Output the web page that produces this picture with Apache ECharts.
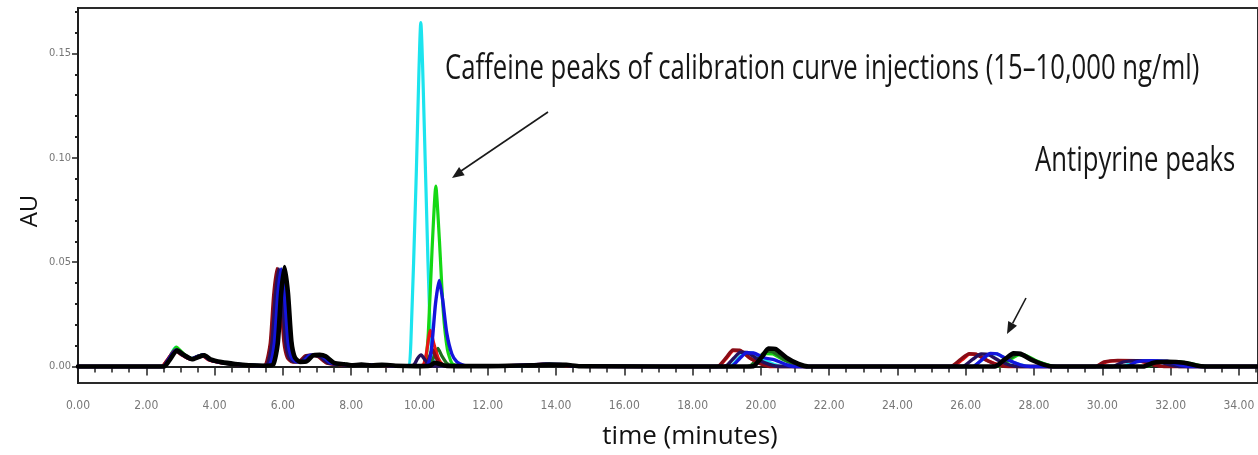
<!DOCTYPE html>
<html>
<head>
<meta charset="utf-8">
<script src="https://cdn.jsdelivr.net/npm/echarts@6/dist/echarts.min.js"></script>
<style>
  html, body { margin: 0; padding: 0; background: #fff; }
  #chart { width: 1258px; height: 455px; }
</style>
</head>
<body>
<div id="chart"></div>
<script>
// Axis ticks and labels
const xMajorTicks = [0, 2, 4, 6, 8, 10, 12, 14, 16, 18, 20, 22, 24, 26, 28, 30, 32, 34];
const xMinorTicks = [0.5, 1, 1.5, 2.5, 3, 3.5, 4.5, 5, 5.5, 6.5, 7, 7.5, 8.5, 9, 9.5, 10.5, 11, 11.5,
  12.5, 13, 13.5, 14.5, 15, 15.5, 16.5, 17, 17.5, 18.5, 19, 19.5, 20.5, 21, 21.5, 22.5, 23, 23.5,
  24.5, 25, 25.5, 26.5, 27, 27.5, 28.5, 29, 29.5, 30.5, 31, 31.5, 32.5, 33, 33.5, 34.5];
const yMajorTicks = [0, 0.05, 0.10, 0.15];
const yMinorTicks = [0.01, 0.02, 0.03, 0.04, 0.06, 0.07, 0.08, 0.09, 0.11, 0.12, 0.13, 0.14, 0.16, 0.17];

// Chromatogram traces: [time (min), absorbance (AU)]
const traceCyan = [[0,0],[2.5,0],[2.62,0.0025],[2.86,0.0092],[3.05,0.0062],[3.3,0.0038],[3.5,0.0048],[3.65,0.0056],[3.82,0.0036],[4.1,0.0024],[4.5,0.0014],[4.9,0.0008],[5.4,0.0004],
  [5.62,0.001],[5.75,0.011],[5.85,0.034],[5.95,0.0465],[6.05,0.033],[6.15,0.012],[6.25,0.0045],[6.4,0.0022],[6.6,0.0025],[6.78,0.0052],[6.98,0.0056],[7.15,0.005],[7.4,0.0018],[7.7,0.001],[8.2,0.0006],[8.7,0.0007],[9.2,0.0004],
  [9.66,0],[9.75,0.012],[9.9,0.088],[10.04,0.1648],[10.19,0.086],[10.32,0.014],[10.42,0.002],[10.6,0.0003],
  [11.5,0.0002],[12.8,0.0001],[13.2,0.0006],[13.7,0.001],[14.2,0.0008],[14.6,0.0001],[18.9,0],
  [19.1,0],[19.35,0.004],[19.55,0.0067],[19.75,0.0066],[20.05,0.0035],[20.4,0.001],[20.7,0],
  [26.2,0],[26.5,0.0035],[26.72,0.0062],[26.92,0.006],[27.25,0.003],[27.6,0.0008],[27.9,0],
  [30.6,0],[30.9,0.0021],[31.3,0.0027],[31.8,0.0024],[32.1,0.001],[32.4,0],[34.6,0]];

const traceGreen = [[0,0],[2.5,0],[2.64,0.003],[2.88,0.0093],[3.08,0.0063],[3.32,0.0038],[3.52,0.005],[3.68,0.0057],[3.85,0.0036],[4.15,0.0023],[4.55,0.0013],[5.0,0.0007],[5.5,0.0004],
  [5.72,0.001],[5.85,0.011],[5.95,0.035],[6.05,0.0472],[6.15,0.034],[6.25,0.012],[6.35,0.0045],[6.5,0.0023],[6.7,0.0026],[6.88,0.0054],[7.08,0.0057],[7.25,0.005],[7.5,0.0018],[7.8,0.001],[8.3,0.0006],[8.8,0.0007],[9.3,0.0004],[10.1,0.0002],
  [10.17,0.001],[10.26,0.016],[10.37,0.056],[10.48,0.0865],[10.58,0.062],[10.7,0.026],[10.82,0.008],[10.95,0.0015],[11.1,0.0004],
  [12.0,0.0002],[13.3,0.0006],[13.8,0.001],[14.3,0.0008],[14.7,0.0001],[19.6,0],
  [19.75,0.0005],[20.0,0.0042],[20.15,0.0062],[20.35,0.006],[20.65,0.0033],[21.0,0.001],[21.3,0],
  [27.0,0],[27.3,0.0033],[27.55,0.0056],[27.75,0.0054],[28.1,0.0025],[28.45,0.0006],[28.7,0],
  [31.3,0],[31.6,0.0018],[32.0,0.0024],[32.5,0.0018],[32.85,0.0004],[33.1,0],[34.6,0]];

const traceDarkGreen = [[0,0],[2.5,0],[2.65,0.0028],[2.9,0.0082],[3.1,0.0058],[3.35,0.0036],[3.55,0.0048],[3.7,0.0055],[3.88,0.0034],[4.2,0.0021],[4.6,0.0012],[5.0,0.0006],[5.5,0.0004],
  [5.7,0.001],[5.82,0.011],[5.92,0.034],[6.02,0.046],[6.12,0.033],[6.22,0.012],[6.32,0.0042],[6.48,0.0022],[6.68,0.0025],[6.86,0.0052],[7.06,0.0055],[7.22,0.0048],[7.48,0.0017],[7.8,0.001],[8.3,0.0006],[8.8,0.0007],[9.3,0.0004],[10.2,0.0003],
  [10.3,0.001],[10.42,0.0045],[10.54,0.0087],[10.66,0.005],[10.8,0.0016],[10.95,0.0003],
  [12.0,0.0002],[13.3,0.0006],[13.8,0.0009],[14.3,0.0008],[14.7,0.0001],[19.6,0],
  [19.7,0.0004],[19.95,0.0045],[20.15,0.0072],[20.35,0.007],[20.65,0.0036],[21.0,0.0011],[21.3,0],
  [26.95,0],[27.25,0.0034],[27.5,0.0058],[27.7,0.0056],[28.05,0.0026],[28.4,0.0007],[28.65,0],
  [31.3,0],[31.6,0.0017],[32.0,0.0023],[32.45,0.0017],[32.8,0.0004],[33.0,0],[34.6,0]];

const traceRed = [[0,0],[2.45,0],[2.6,0.0028],[2.84,0.0078],[3.04,0.0056],[3.28,0.0035],[3.48,0.0047],[3.62,0.0054],[3.8,0.0034],[4.1,0.0021],[4.5,0.0012],[4.9,0.0006],[5.35,0.0004],
  [5.52,0.001],[5.65,0.011],[5.75,0.034],[5.85,0.0465],[5.95,0.033],[6.05,0.012],[6.15,0.0043],[6.3,0.0022],[6.5,0.0025],[6.68,0.0051],[6.88,0.0054],[7.05,0.0048],[7.3,0.0017],[7.6,0.001],[8.1,0.0006],[8.6,0.0007],[9.1,0.0004],[10.0,0.0003],
  [10.12,0.001],[10.2,0.006],[10.32,0.0173],[10.42,0.011],[10.55,0.004],[10.68,0.001],[10.85,0.0002],
  [11.8,0.0002],[13.1,0.0006],[13.6,0.001],[14.1,0.0008],[14.5,0.0001],[18.7,0],
  [18.8,0.0004],[19.02,0.0045],[19.2,0.0076],[19.4,0.0075],[19.7,0.0038],[20.05,0.0012],[20.35,0],
  [25.6,0],[25.9,0.0033],[26.12,0.0059],[26.32,0.0057],[26.65,0.0028],[27.0,0.0007],[27.3,0],
  [29.85,0],[30.1,0.0021],[30.5,0.0028],[31.1,0.0026],[31.5,0.0009],[31.8,0],[34.6,0]];

const traceDarkRed = [[0,0],[2.45,0],[2.6,0.0027],[2.85,0.0077],[3.05,0.0055],[3.3,0.0035],[3.5,0.0047],[3.64,0.0054],[3.82,0.0034],[4.1,0.0021],[4.5,0.0012],[4.9,0.0006],[5.35,0.0004],
  [5.5,0.001],[5.63,0.011],[5.73,0.034],[5.83,0.047],[5.93,0.034],[6.03,0.012],[6.13,0.0043],[6.28,0.0022],[6.48,0.0025],[6.66,0.0051],[6.86,0.0054],[7.03,0.0048],[7.28,0.0017],[7.6,0.001],[8.1,0.0006],[8.6,0.0007],[9.1,0.0004],[10.1,0.0003],
  [10.2,0.001],[10.3,0.005],[10.38,0.0082],[10.48,0.0045],[10.6,0.0012],[10.75,0.0002],
  [11.8,0.0002],[13.1,0.0006],[13.6,0.001],[14.1,0.0008],[14.5,0.0001],[18.7,0],
  [18.78,0.0004],[19.0,0.0046],[19.18,0.0079],[19.38,0.0078],[19.68,0.004],[20.0,0.0013],[20.3,0],
  [25.55,0],[25.85,0.0034],[26.1,0.0061],[26.3,0.0059],[26.62,0.0029],[26.95,0.0007],[27.25,0],
  [29.8,0],[30.05,0.0022],[30.45,0.0029],[31.1,0.0027],[31.5,0.0009],[31.8,0],[34.6,0]];

const traceNavy = [[0,0],[2.5,0],[2.63,0.0028],[2.87,0.0076],[3.07,0.0055],[3.3,0.0035],[3.52,0.0048],[3.66,0.0055],[3.84,0.0034],[4.12,0.0021],[4.5,0.0012],[4.9,0.0006],[5.4,0.0004],
  [5.55,0.001],[5.68,0.011],[5.78,0.034],[5.88,0.0468],[5.98,0.034],[6.08,0.012],[6.18,0.0043],[6.33,0.0022],[6.53,0.0025],[6.71,0.0051],[6.91,0.0054],[7.08,0.0048],[7.33,0.0017],[7.65,0.001],[8.15,0.0006],[8.65,0.0007],[9.15,0.0004],[9.75,0.0003],
  [9.85,0.001],[9.95,0.004],[10.05,0.0055],[10.17,0.003],[10.3,0.0006],[10.5,0.0002],
  [11.8,0.0002],[13.2,0.0006],[13.7,0.001],[14.2,0.0008],[14.6,0.0001],[18.9,0],
  [19.0,0.0004],[19.22,0.0042],[19.4,0.0068],[19.6,0.0067],[19.9,0.0035],[20.25,0.001],[20.55,0],
  [25.9,0],[26.2,0.0034],[26.45,0.006],[26.65,0.0058],[26.98,0.0028],[27.3,0.0007],[27.6,0],
  [30.3,0],[30.6,0.0021],[31.0,0.0028],[31.6,0.0025],[31.95,0.0009],[32.25,0],[34.6,0]];

const traceBlue = [[0,0],[2.5,0],[2.63,0.0028],[2.87,0.0079],[3.07,0.0057],[3.31,0.0036],[3.51,0.0049],[3.66,0.0056],[3.84,0.0035],[4.12,0.0022],[4.52,0.0013],[4.92,0.0007],[5.4,0.0004],
  [5.62,0.001],[5.75,0.011],[5.85,0.034],[5.95,0.0468],[6.05,0.034],[6.15,0.012],[6.25,0.0044],[6.4,0.0022],[6.6,0.0025],[6.78,0.0053],[6.98,0.0056],[7.15,0.005],[7.4,0.0018],[7.7,0.001],[8.2,0.0006],[8.7,0.0007],[9.2,0.0004],[10.1,0.0003],
  [10.25,0.001],[10.35,0.008],[10.47,0.03],[10.58,0.0413],[10.68,0.032],[10.8,0.016],[10.95,0.006],[11.1,0.0022],[11.3,0.0006],[11.5,0.0002],
  [12.5,0.0002],[13.2,0.0007],[13.7,0.0011],[14.2,0.0009],[14.6,0.0001],[19.1,0],
  [19.18,0.0004],[19.4,0.0042],[19.58,0.0066],[19.78,0.0065],[20.1,0.0042],[20.4,0.0032],[20.7,0.0012],[21.0,0],
  [26.2,0],[26.5,0.0036],[26.72,0.0063],[26.92,0.0061],[27.25,0.0031],[27.6,0.0008],[27.9,0],
  [30.7,0],[31.0,0.0022],[31.4,0.0028],[31.9,0.0025],[32.2,0.001],[32.5,0],[34.6,0]];

const traceBlack = [[0,0],[2.52,0],[2.66,0.0026],[2.9,0.0076],[3.1,0.0055],[3.34,0.0035],[3.55,0.0047],[3.7,0.0054],[3.88,0.0034],[4.2,0.0021],[4.6,0.0012],[5.0,0.0006],[5.5,0.0004],
  [5.72,0.001],[5.85,0.011],[5.95,0.035],[6.05,0.0477],[6.15,0.035],[6.25,0.012],[6.35,0.0044],[6.5,0.0022],[6.7,0.0025],[6.88,0.0053],[7.08,0.0056],[7.25,0.0049],[7.5,0.0017],[7.8,0.0011],[8.0,0.0006],[8.3,0.0009],[8.6,0.0005],[8.9,0.0008],[9.3,0.0004],[9.9,0.0002],
  [10.3,0.0004],[10.45,0.0018],[10.6,0.0012],[10.8,0.0003],
  [12.0,0.0002],[13.3,0.0006],[13.8,0.0009],[14.3,0.0008],[14.7,0.0001],[19.7,0],
  [19.82,0.0005],[20.05,0.005],[20.22,0.0086],[20.42,0.0084],[20.75,0.0042],[21.1,0.0012],[21.4,0],
  [26.85,0],[27.15,0.0035],[27.4,0.0063],[27.6,0.0061],[27.95,0.003],[28.3,0.0008],[28.55,0],
  [31.2,0],[31.5,0.0018],[31.9,0.0023],[32.4,0.0018],[32.75,0.0005],[33.0,0],[34.6,0]];

// Drawing order: later traces sit on top
const traces = [
  { name: 'run 1', data: traceCyan, color: '#1ce4ee', width: 3.2 },
  { name: 'run 2', data: traceGreen, color: '#14d814', width: 3.2 },
  { name: 'run 3', data: traceDarkGreen, color: '#1e6e1e', width: 3.2 },
  { name: 'run 4', data: traceRed, color: '#ec1212', width: 3.2 },
  { name: 'run 5', data: traceDarkRed, color: '#8a0c16', width: 3.4 },
  { name: 'run 6', data: traceNavy, color: '#24105e', width: 3.4 },
  { name: 'run 7', data: traceBlue, color: '#1414dc', width: 3.4 },
  { name: 'run 8', data: traceBlack, color: '#000000', width: 4.6 }
];

const tickFont = "'Liberation Sans Narrow', 'DejaVu Sans Condensed', sans-serif";
const X_MIN = 0, X_MAX = 34.56;
const Y_MIN = -0.0079, Y_MAX = 0.1718;

const chart = echarts.init(document.getElementById('chart'), null, { renderer: 'canvas' });

const option = {
  animation: false,
  backgroundColor: '#ffffff',
  grid: {
    left: 78, right: -2, top: 8, bottom: 72,
    show: true, borderColor: '#2a2a2a', borderWidth: 2, backgroundColor: 'transparent'
  },
  xAxis: [
    {
      type: 'value', min: X_MIN, max: X_MAX, position: 'bottom',
      axisLine: { show: true, lineStyle: { color: '#1e1e1e', width: 2 } },
      axisTick: { show: true, customValues: xMajorTicks, length: 9, lineStyle: { color: '#222', width: 1.5 } },
      axisLabel: {
        show: true, customValues: xMajorTicks, margin: 17,
        formatter: v => v.toFixed(2),
        color: '#777777', fontSize: 12, fontFamily: tickFont
      },
      splitLine: { show: false }
    },
    {
      type: 'value', min: X_MIN, max: X_MAX, position: 'bottom',
      axisLine: { show: false },
      axisTick: { show: true, customValues: xMinorTicks, length: 6, lineStyle: { color: '#222', width: 1.5 } },
      axisLabel: { show: false },
      splitLine: { show: false }
    }
  ],
  yAxis: [
    {
      type: 'value', min: Y_MIN, max: Y_MAX, position: 'left',
      axisLine: { show: true, lineStyle: { color: '#1e1e1e', width: 2 } },
      axisTick: { show: true, customValues: yMajorTicks, length: 6, lineStyle: { color: '#222', width: 1.5 } },
      axisLabel: {
        show: true, customValues: yMajorTicks, margin: 7,
        formatter: v => v.toFixed(2),
        color: '#777777', fontSize: 11, fontFamily: tickFont
      },
      splitLine: { show: false }
    },
    {
      type: 'value', min: Y_MIN, max: Y_MAX, position: 'left',
      axisLine: { show: false },
      axisTick: { show: true, customValues: yMinorTicks, length: 3, lineStyle: { color: '#222', width: 2 } },
      axisLabel: { show: false },
      splitLine: { show: false }
    }
  ],
  series: traces.map(t => ({
    name: t.name,
    type: 'line',
    xAxisIndex: 0,
    yAxisIndex: 0,
    data: t.data,
    showSymbol: false,
    smooth: 0.2,
    lineStyle: { color: t.color, width: t.width, join: 'round', cap: 'round' },
    itemStyle: { color: t.color },
    emphasis: { disabled: true },
    silent: true,
    z: 2
  })),
  graphic: [
    {
      type: 'text', x: 30, y: 211, rotation: Math.PI / 2,
      style: {
        text: 'AU', font: "24px 'Open Sans', sans-serif", fill: '#111',
        align: 'center', verticalAlign: 'middle', textAlign: 'center', textVerticalAlign: 'middle'
      }
    },
    {
      type: 'text', x: 690, y: 437,
      style: {
        text: 'time (minutes)', font: "26px 'Open Sans', sans-serif", fill: '#111',
        align: 'center', verticalAlign: 'middle', textAlign: 'center', textVerticalAlign: 'middle'
      }
    },
    {
      type: 'text', x: 445, y: 69, scaleX: 0.756, scaleY: 1,
      style: {
        text: 'Caffeine peaks of calibration curve injections (15\u201310,000 ng/ml)',
        font: "34px 'Open Sans', sans-serif", fill: '#161616',
        align: 'left', verticalAlign: 'middle', textAlign: 'left', textVerticalAlign: 'middle'
      }
    },
    {
      type: 'text', x: 1035, y: 161, scaleX: 0.756, scaleY: 1,
      style: {
        text: 'Antipyrine peaks',
        font: "34px 'Open Sans', sans-serif", fill: '#161616',
        align: 'left', verticalAlign: 'middle', textAlign: 'left', textVerticalAlign: 'middle'
      }
    },
    // arrow towards the caffeine peaks
    { type: 'line', shape: { x1: 548, y1: 112, x2: 461, y2: 171 }, style: { stroke: '#1a1a1a', lineWidth: 1.6 } },
    { type: 'polygon', shape: { points: [[452, 178], [464.7, 175.3], [459.1, 167.1]] }, style: { fill: '#1a1a1a' } },
    // arrow towards the antipyrine peaks
    { type: 'line', shape: { x1: 1026, y1: 298, x2: 1012.6, y2: 323.4 }, style: { stroke: '#1a1a1a', lineWidth: 1.6 } },
    { type: 'polygon', shape: { points: [[1007, 334], [1017, 325.7], [1008.2, 321.1]] }, style: { fill: '#1a1a1a' } }
  ]
};

chart.setOption(option);
</script>
</body>
</html>
